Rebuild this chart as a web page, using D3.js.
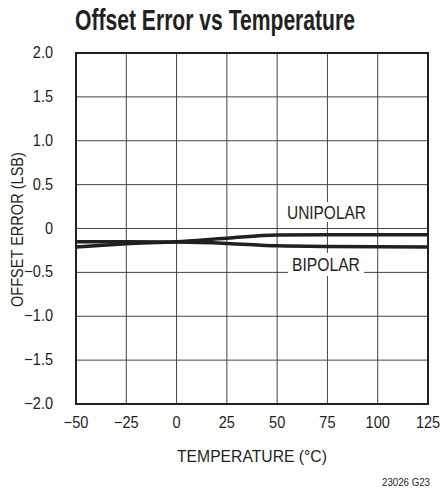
<!DOCTYPE html>
<html><head><meta charset="utf-8">
<script src="https://cdn.jsdelivr.net/npm/d3@7"></script>
<style>
body{margin:0;background:#fff;}
text{font-family:"Liberation Sans",Arial,sans-serif;fill:#231f20;}
</style></head>
<body><svg id="c" width="443" height="490"></svg>
<script>
const temps = [-50, -25, 0, 25, 50, 75, 100, 125];
const unipolar = [-0.21, -0.175, -0.15, -0.11, -0.075, -0.07, -0.07, -0.07];
const bipolar = [-0.15, -0.152, -0.155, -0.17, -0.198, -0.205, -0.207, -0.21];
const xTicks = [-50, -25, 0, 25, 50, 75, 100, 125];
const yTicks = [-2, -1.5, -1, -0.5, 0, 0.5, 1, 1.5, 2];
const yTickLabels = ["\u22122.0","\u22121.5","\u22121.0","\u22120.5","0","0.5","1.0","1.5","2.0"];
const xTickLabels = ["\u221250","\u221225","0","25","50","75","100","125"];

const svg = d3.select("#c");
const L=76, R=428, T=53, B=404;
const x = d3.scaleLinear().domain([-50,125]).range([L,R]);
const y = d3.scaleLinear().domain([-2,2]).range([B,T]);

// text squeezed horizontally to a target width (condensed look)
function fitText(px, py, s, size, width, opts={}){
  const t = svg.append("text").attr("font-size",size).text(s);
  if(opts.bold) t.attr("font-weight","bold");
  const w = t.node().getComputedTextLength();
  const sx = width / w;
  t.attr("transform",`translate(${px},${py})` + (opts.rot?` rotate(${opts.rot})`:"") + ` scale(${sx},1)`);
  return t;
}
function txt(px, py, s, size, anchor, sx){
  return svg.append("text")
    .attr("transform",`translate(${px},${py}) scale(${sx},1)`)
    .attr("text-anchor",anchor).attr("font-size",size).text(s);
}

// grid
svg.append("g").selectAll("line").data(xTicks).join("line")
  .attr("x1",d=>x(d)).attr("x2",d=>x(d)).attr("y1",T).attr("y2",B)
  .attr("stroke","#444").attr("stroke-width",1);
svg.append("g").selectAll("line").data(yTicks).join("line")
  .attr("y1",d=>y(d)).attr("y2",d=>y(d)).attr("x1",L).attr("x2",R)
  .attr("stroke","#444").attr("stroke-width",1);

// label backgrounds
svg.append("rect").attr("x",285).attr("y",202).attr("width",83).attr("height",20).attr("fill","#fff");
svg.append("rect").attr("x",288).attr("y",253).attr("width",76).attr("height",23).attr("fill","#fff");

// curves
const line = d3.line().x((d,i)=>x(temps[i])).y(d=>y(d)).curve(d3.curveMonotoneX);
[unipolar,bipolar].forEach(s=>{
  svg.append("path").attr("d",line(s)).attr("fill","none").attr("stroke","#231f20").attr("stroke-width",3.5);
});

// frame
svg.append("rect").attr("x",L).attr("y",T).attr("width",R-L).attr("height",B-T)
  .attr("fill","none").attr("stroke","#231f20").attr("stroke-width",2);

// series labels
fitText(287, 219, "UNIPOLAR", 19, 79);
fitText(292, 271, "BIPOLAR", 19, 68);

// tick labels
yTicks.forEach((d,i)=>txt(53, y(d)+5, yTickLabels[i], 16.5, "end", 0.88));
xTicks.forEach((d,i)=>txt(x(d), 428, xTickLabels[i], 16.5, "middle", 0.88));

// axis titles
fitText(177, 462, "TEMPERATURE (\u00B0C)", 17, 150);
fitText(23, 307, "OFFSET ERROR (LSB)", 17, 155, {rot:-90});
fitText(382, 486, "23026 G23", 11, 48);

// title
fitText(75, 30, "Offset Error vs Temperature", 29, 280, {bold:true});
</script></body></html>
